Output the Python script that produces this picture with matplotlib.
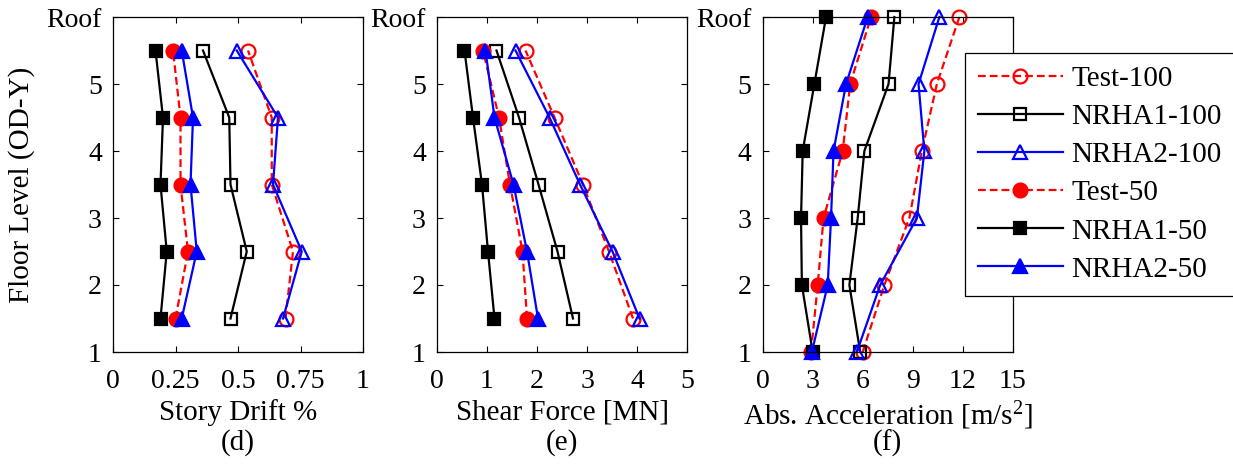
import numpy as np
import matplotlib
matplotlib.use("Agg")
import matplotlib.pyplot as plt

plt.rcParams['font.family'] = ['Liberation Serif', 'DejaVu Serif']
plt.rcParams['mathtext.fontset'] = 'custom'
plt.rcParams['mathtext.rm'] = 'Liberation Serif'
plt.rcParams['mathtext.it'] = 'Liberation Serif:italic'
plt.rcParams['font.size'] = 20

# floor levels (story mid-heights for drift / shear, floors for acceleration)
floors_mid = [1.5, 2.5, 3.5, 4.5, 5.5]
floors_acc = [1, 2, 3, 4, 5, 6]
ytick_vals = [1, 2, 3, 4, 5, 6]
ytick_labels = ["1", "2", "3", "4", "5", "Roof"]

# (d) story drift %
test100_d   = [0.69, 0.72, 0.635, 0.635, 0.54]
nrha1_100_d = [0.47, 0.535, 0.47, 0.465, 0.36]
nrha2_100_d = [0.68, 0.755, 0.64, 0.66, 0.495]
test50_d    = [0.25, 0.30, 0.27, 0.27, 0.24]
nrha1_50_d  = [0.19, 0.215, 0.19, 0.20, 0.17]
nrha2_50_d  = [0.275, 0.335, 0.31, 0.32, 0.275]

# (e) shear force [MN]
test100_e   = [3.92, 3.44, 2.92, 2.35, 1.77]
nrha1_100_e = [2.72, 2.41, 2.03, 1.64, 1.19]
nrha2_100_e = [4.05, 3.51, 2.86, 2.25, 1.57]
test50_e    = [1.80, 1.71, 1.46, 1.24, 0.92]
nrha1_50_e  = [1.15, 1.02, 0.90, 0.72, 0.55]
nrha2_50_e  = [2.02, 1.80, 1.53, 1.15, 0.97]

# (f) absolute acceleration [m/s2]
test100_f   = [6.0, 7.3, 8.8, 9.55, 10.45, 11.8]
nrha1_100_f = [5.85, 5.2, 5.7, 6.1, 7.55, 7.9]
nrha2_100_f = [5.65, 7.05, 9.25, 9.7, 9.35, 10.6]
test50_f    = [2.9, 3.3, 3.65, 4.8, 5.25, 6.5]
nrha1_50_f  = [3.0, 2.35, 2.3, 2.4, 3.1, 3.8]
nrha2_50_f  = [2.95, 3.9, 4.1, 4.25, 5.0, 6.3]

labels = ["Test-100", "NRHA1-100", "NRHA2-100", "Test-50", "NRHA1-50", "NRHA2-50"]
styles = [
    dict(color="red", ls="--", marker="o", mfc="none", ms=10),
    dict(color="black", ls="-", marker="s", mfc="none", ms=9),
    dict(color="blue", ls="-", marker="^", mfc="none", ms=10),
    dict(color="red", ls="--", marker="o", mfc="red", ms=10),
    dict(color="black", ls="-", marker="s", mfc="black", ms=9),
    dict(color="blue", ls="-", marker="^", mfc="blue", ms=10),
]

panels = [
    (floors_mid, [test100_d, nrha1_100_d, nrha2_100_d, test50_d, nrha1_50_d, nrha2_50_d],
     (0, 1), [0, 0.25, 0.5, 0.75, 1], ["0", "0.25", "0.5", "0.75", "1"], "Story Drift %", "(d)"),
    (floors_mid, [test100_e, nrha1_100_e, nrha2_100_e, test50_e, nrha1_50_e, nrha2_50_e],
     (0, 5), [0, 1, 2, 3, 4, 5], ["0", "1", "2", "3", "4", "5"], "Shear Force [MN]", "(e)"),
    (floors_acc, [test100_f, nrha1_100_f, nrha2_100_f, test50_f, nrha1_50_f, nrha2_50_f],
     (0, 15), [0, 3, 6, 9, 12, 15], ["0", "3", "6", "9", "12", "15"],
     "Abs. Acceleration [m/s$^2$]", "(f)"),
]

fig = plt.figure(figsize=(12.33, 4.65), dpi=100)
lefts = [113 / 1233, 437 / 1233, 762.7 / 1233]
axes = []
for i, (yy, series, xlim, xt, xtl, xlab, tag) in enumerate(panels):
    ax = fig.add_axes([lefts[i], 1 - 352 / 465, 250 / 1233, 335 / 465])
    for s, st, lab in zip(series, styles, labels):
        line, = ax.plot(s, yy, lw=1.6, mew=1.6, label=lab, clip_on=False, **st)
        if st["ls"] == "--":
            line.set_dashes((3.5, 1.8))
    ax.set_xlim(*xlim)
    ax.set_ylim(1, 6)
    ax.set_xticks(xt)
    ax.set_xticklabels(xtl)
    ax.set_yticks(ytick_vals)
    ax.set_yticklabels(ytick_labels)
    ax.tick_params(direction="in", top=True, right=True, length=4, width=0.8, pad=8)
    ax.tick_params(axis="x", pad=12)
    ax.set_xlabel(xlab, labelpad=4, fontsize=21)
    ax.text(0.5, (352 - 443) / 335, tag, transform=ax.transAxes, ha="center", va="center",
            fontsize=21)
    for sp in ax.spines.values():
        sp.set_linewidth(0.9)
    axes.append(ax)

axes[0].set_ylabel("Floor Level (OD-Y)", labelpad=8, fontsize=21)

handles, labs = axes[2].get_legend_handles_labels()
leg = fig.legend(handles, labs, loc="upper left", bbox_to_anchor=(965 / 1233, 1 - 52.7 / 465),
                 bbox_transform=fig.transFigure, borderaxespad=0, fancybox=False,
                 framealpha=1, edgecolor="black", handlelength=2.9, handletextpad=0.3,
                 labelspacing=0.4, borderpad=0.45, fontsize=21)
leg.get_frame().set_linewidth(0.9)

fig.savefig("out.png", dpi=100)
